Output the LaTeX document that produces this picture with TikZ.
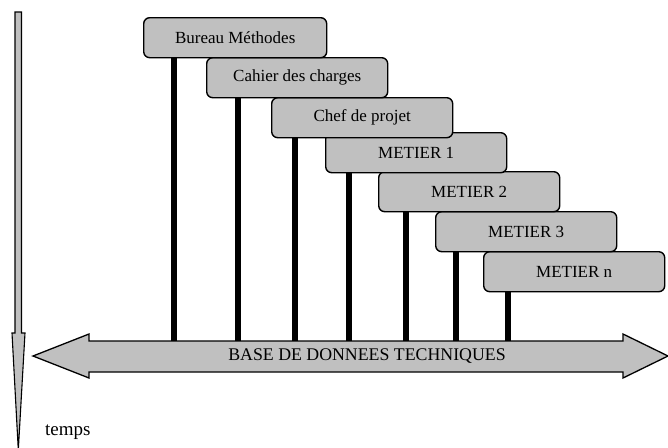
\documentclass[tikz,border=0pt]{standalone}
\usepackage{fontspec}
\setmainfont{Liberation Serif}
\newfontfamily\labelfont{Liberation Serif}
\begin{document}
\begin{tikzpicture}[x=1pt,y=-1pt,
  phase/.style={draw=black, line width=1.4pt, fill=boxgray, rounded corners=6pt,
    minimum width=181pt, minimum height=40pt, inner sep=0pt, anchor=north west,
    font=\labelfont\fontsize{17}{19}\selectfont},
  link/.style={line width=5.2pt, black},
  bigarrow/.style={draw=black, line width=1.3pt, fill=boxgray, line join=miter},
  lbl/.style={font=\labelfont\fontsize{17.8}{20}\selectfont, inner sep=0pt}]
\definecolor{boxgray}{HTML}{C0C0C0}
\useasboundingbox (0,0) rectangle (668,447);

% time axis
\draw[bigarrow, line width=1.1pt] (15,12) -- (21.5,12) -- (21.5,333) -- (25,333)
  -- (18.3,450) -- (12,333) -- (15,333) -- cycle;
\node[lbl, anchor=west, font=\labelfont\fontsize{19}{21}\selectfont] (temps) at (45,432) {temps};

% shared database arrow
\coordinate (shaft) at (0,341);
\draw[bigarrow] (33,356) -- (89,334) -- (89,341) -- (623,341) -- (623,334)
  -- (668,356) -- (623,378) -- (623,372) -- (89,372) -- (89,378) -- cycle;
\node[lbl] (bdd) at (367,356) {BASE DE DONNEES TECHNIQUES};

% phase boxes, later ones underneath earlier ones
\node[phase] (b7) at (483,251) {METIER n};
\node[phase] (b6) at (435,211) {METIER 3};
\node[phase] (b5) at (378,171) {METIER 2};
\node[phase] (b4) at (325,132) {METIER 1};
\node[phase] (b3) at (271,97)  {Chef de projet};
\node[phase] (b2) at (206,57)  {Cahier des charges};
\node[phase, minimum width=183pt] (b1) at (143,17) {Bureau Méthodes};

% links from each phase down to the database
\foreach \b/\dx in {b1/31, b2/32, b3/24, b4/24, b5/28, b6/21, b7/25}{
  \draw[link] ([xshift=\dx pt, yshift=1pt]\b.south west)
    -- ([xshift=\dx pt]\b.south west |- shaft);
}
\end{tikzpicture}
\end{document}
